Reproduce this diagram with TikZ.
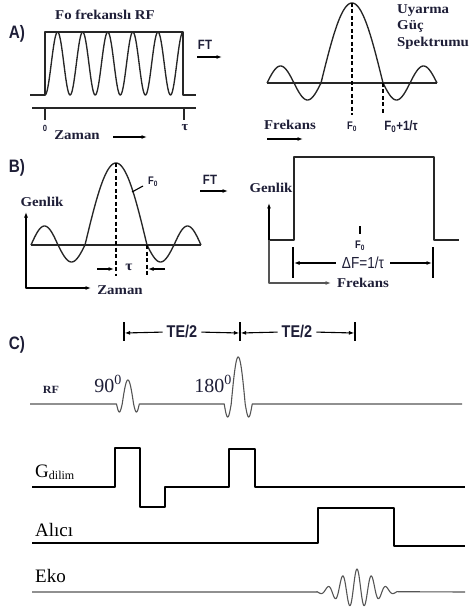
\documentclass[tikz,border=0pt]{standalone}
\usepackage{fontspec}
\setmainfont{Liberation Serif}
\newfontfamily\bserif[FakeStretch=1.1]{Liberation Serif}
\newfontfamily\nsans[FakeStretch=0.85]{Liberation Sans}
\usetikzlibrary{arrows.meta}
\definecolor{tcol}{RGB}{30,30,55}
\definecolor{lgray}{RGB}{85,85,85}
\begin{document}
\begin{tikzpicture}[x=1pt,y=-1pt,
  >={Latex[length=5.5pt,width=4pt]},
  wave/.style={line width=1.35pt, line join=round, black!85},
  fine/.style={line width=1.1pt, line join=round},
  grayline/.style={line width=1.1pt, lgray, line join=round},
  dash line/.style={line width=1.1pt, dash pattern=on 4pt off 2.5pt},
  marker/.style={line width=1.5pt},
  panel/.style={inner sep=0pt, text=tcol, font=\nsans\bfseries\fontsize{18}{20}\selectfont},
  sb/.style={inner sep=0pt, text=tcol, font=\bserif\bfseries\fontsize{13.5}{16.5}\selectfont},
  ns/.style={inner sep=0pt, text=tcol, font=\nsans\bfseries\fontsize{13.5}{15}\selectfont},
  nsmall/.style={inner sep=0pt, text=tcol, font=\nsans\bfseries\fontsize{11}{12}\selectfont},
  nreg/.style={inner sep=0pt, text=tcol, font=\nsans\fontsize{16}{18}\selectfont},
  te/.style={inner sep=0pt, text=tcol, font=\nsans\bfseries\fontsize{17}{19}\selectfont},
  deg/.style={inner sep=0pt, text=tcol, font=\fontsize{20}{22}\selectfont},
  tr/.style={inner sep=0pt, text=black, font=\fontsize{19}{21}\selectfont, anchor=west},
]
\useasboundingbox (0,0) rectangle (473,612);

% ================= A =================
\node[panel] (pA) at (17,34) {A)};
\node[sb] (tA) at (105,15) {Fo frekanslı RF};
\draw[wave] (30,95) -- (45,95) -- (45,32) -- (183,32) -- (183,95) -- (196,95);
\draw[wave] plot[domain=45:183,samples=240] (\x,{63.5+31.5*cos(14.3426*(\x-45))});
\draw[wave] (32,108) -- (196,108);
\draw[wave] (45,108) -- (45,120);
\draw[wave] (184,108) -- (184,120);
\node[nsmall, font=\nsans\bfseries\fontsize{9}{10}\selectfont] (zero) at (45,128) {0};
\node[sb, font=\bserif\bfseries\fontsize{13}{14}\selectfont] (tauA) at (185,128) {τ};
\node[sb] (zA) at (77,135) {Zaman};
\coordinate (zAa) at (113,137);
\coordinate (zAb) at (147,137);
\draw[->, fine] (zAa) -- (zAb);
\node[ns] (ftA) at (205,45) {FT};
\coordinate (ftAa) at (197,57);
\coordinate (ftAb) at (222,57);
\draw[->, fine] (ftAa) -- (ftAb);

% spectrum
\draw[wave] (267,83) -- (437,83);
\draw[wave] plot[domain=-3:-1,samples=60] ({321-27*(-\x-1)},{83+17*sin(180*(-\x-1))})
  -- plot[domain=-1:1,samples=90] ({352+31*\x},{83-80*cos(90*\x)})
  -- plot[domain=1:3,samples=60] ({383+27*(\x-1)},{83+17*sin(180*(\x-1))});
\draw[dash line] (352,3) -- (352,115);
\draw[dash line] (383,83) -- (383,115);
\node[nsmall] (f0A) at (352,127) {F\textsubscript{0}};
\node[ns] (f1A) at (401,127) {F\textsubscript{0}+1/τ};
\node[sb, align=left, anchor=north west] (uy) at (397,4) {Uyarma\\Güç\\Spektrumu};
\node[sb] (frA) at (290,125) {Frekans};
\coordinate (frAa) at (267,139);
\coordinate (frAb) at (303,139);
\draw[->, fine] (frAa) -- (frAb);

% ================= B =================
\node[panel] (pB) at (17,168) {B)};
\draw[wave] (31,245) -- (201,245);
\draw[wave] plot[domain=-3:-2,samples=30] ({85-27*(-\x-1)},{245-19*sin(180*(-\x-2))})
  -- plot[domain=-2:-1,samples=30] ({85-27*(-\x-1)},{245+17*sin(180*(-\x-1))})
  -- plot[domain=-1:1,samples=90] ({116+31*\x},{245-82*cos(90*\x)})
  -- plot[domain=1:2,samples=30] ({147+27*(\x-1)},{245+17*sin(180*(\x-1))})
  -- plot[domain=2:3,samples=30] ({147+27*(\x-1)},{245-19*sin(180*(\x-2))});
\draw[dash line] (116,163) -- (116,276);
\draw[dash line] (147,245) -- (147,276);
\coordinate (tl) at (114,269);
\coordinate (tr) at (148,269);
\coordinate (tla) at (97,269);
\coordinate (tra) at (165,269);
\draw[->, fine] (tla) -- (tl);
\draw[->, fine] (tra) -- (tr);
\node[sb, font=\bserif\bfseries\fontsize{14}{15}\selectfont] (tauB) at (129,267) {τ};
\node[nsmall] (f0B) at (153,182) {F\textsubscript{0}};
\coordinate (lk1) at (132,192);
\coordinate (lk2) at (143,186);
\draw[fine] (lk1) -- (lk2);
\node[ns] (ftB) at (210,180) {FT};
\coordinate (ftBa) at (200,191);
\coordinate (ftBb) at (228,191);
\draw[->, fine] (ftBa) -- (ftBb);
\node[sb] (gB) at (42,202) {Genlik};
\node[sb] (zB) at (120,290) {Zaman};
\coordinate (axT) at (26,212);
\coordinate (axR) at (91,288);
\draw[<->, fine] (axT) |- (axR);

% rect spectrum
\draw[wave] (269,240) -- (294,240) -- (294,157) -- (434,157) -- (434,240) -- (459,240);
\node[sb] (gB2) at (271,188) {Genlik};
\coordinate (vb) at (269,240);
\coordinate (vt) at (269,203);
\draw[->, fine] (vb) -- (vt);
\coordinate (hr) at (331,283);
\draw[->, grayline] (vb) |- (hr);
\node[sb] (frB) at (363,283) {Frekans};
\draw[fine] (360,226) -- (360,234);
\node[nsmall] (f0B2) at (360,246) {F\textsubscript{0}};
\draw[marker] (293,247) -- (293,278);
\draw[marker] (433,247) -- (433,278);
\node[nreg] (df) at (363,263) {ΔF=1/τ};
\coordinate (m1) at (294,263);
\coordinate (m2) at (432,263);
\draw[->, fine, shorten <=6pt] (df.west) -- (m1);
\draw[->, fine, shorten <=6pt] (df.east) -- (m2);

% ================= C =================
\node[panel] (pC) at (17,345) {C)};
\draw[marker] (124,322) -- (124,341);
\draw[marker] (240,322) -- (240,341);
\draw[marker] (355,322) -- (355,341);
\coordinate (t1) at (124.6,333);
\coordinate (t2) at (239.4,333);
\coordinate (t2b) at (240.6,333);
\coordinate (t3) at (354.4,333);
\node[te] (te1) at (182,332) {TE/2};
\node[te] (te2) at (297,332) {TE/2};
\draw[->, fine, shorten <=4pt] (te1.west) -- (t1);
\draw[->, fine, shorten <=4pt] (te1.east) -- (t2);
\draw[->, fine, shorten <=4pt] (te2.west) -- (t2b);
\draw[->, fine, shorten <=4pt] (te2.east) -- (t3);

\node[sb, font=\bserif\bfseries\fontsize{11}{12}\selectfont] (rf) at (51,390) {RF};
\node[deg] (d90) at (108,384) {90\textsuperscript{0}};
\node[deg] (d180) at (213,384) {180\textsuperscript{0}};
\draw[line width=1.1pt, lgray, line join=round] (30,404) -- (116.5,404)
  -- plot[domain=-2:-1,samples=30] ({127.9+5.7*\x},{404+8*sin(180*(-\x-1))})
  -- plot[domain=-1:1,samples=50] ({127.9+5.7*\x},{404-24*cos(90*\x)})
  -- plot[domain=1:2,samples=30] ({127.9+5.7*\x},{404+8*sin(180*(\x-1))})
  -- (224.2,404)
  -- plot[domain=-2:-1,samples=30] ({238.2+7*\x},{404+13*sin(180*(-\x-1))})
  -- plot[domain=-1:1,samples=60] ({238.2+7*\x},{404-47*cos(90*\x)})
  -- plot[domain=1:2,samples=30] ({238.2+7*\x},{404+13*sin(180*(\x-1))})
  -- (462,404);

\node[tr] (gd) at (35,472) {G\raisebox{-2pt}{\fontsize{12}{12}\selectfont dilim}};
\draw[fine] (32,487) -- (115,487) -- (115,448) -- (140,448) -- (140,507) -- (165,507)
  -- (165,487) -- (229,487) -- (229,449) -- (255,449) -- (255,487) -- (465,487);
\node[tr] (al) at (35,530) {Alıcı};
\draw[fine] (32,543) -- (318,543) -- (318,508) -- (394,508) -- (394,546) -- (465,546);
\node[tr] (ek) at (35,576) {Eko};
\draw[grayline] (32,592) -- (317,592)
  -- plot[domain=317:397,samples=200] (\x,{592-exp(-((\x-357)/24)^2)*(4+19*cos(24.8276*(\x-357)))})
  -- (465,592);
\end{tikzpicture}
\end{document}
